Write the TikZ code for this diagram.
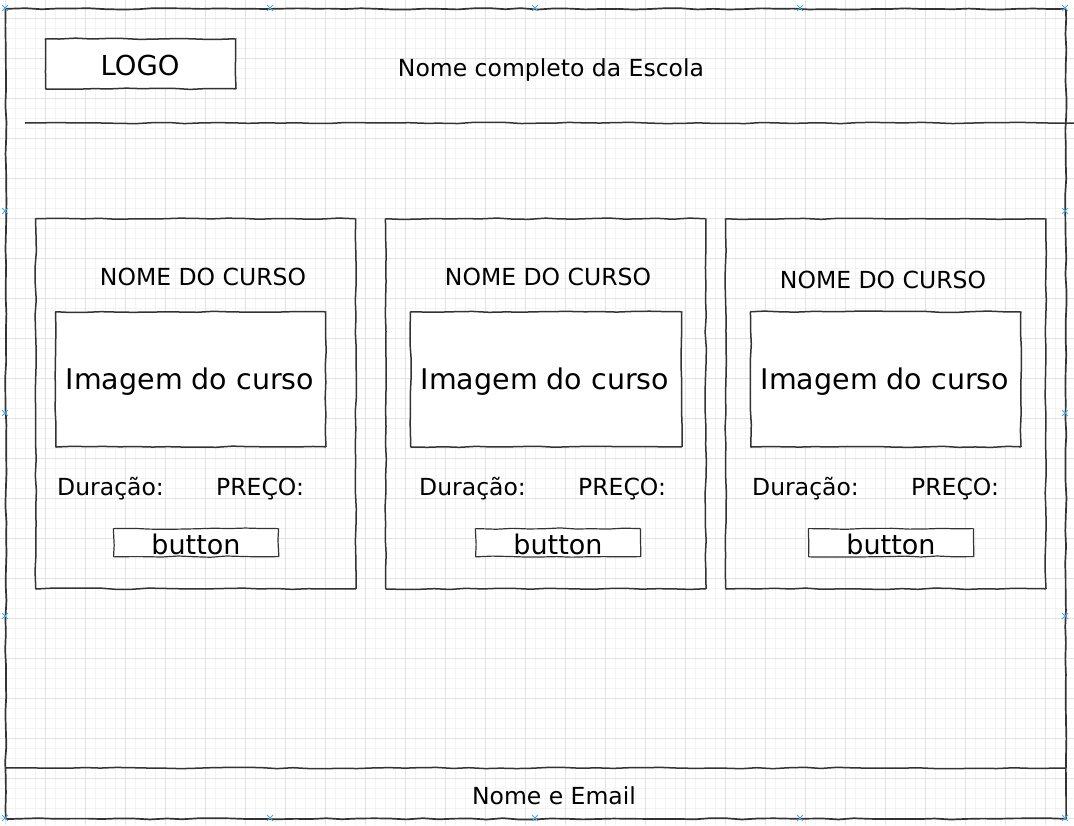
\documentclass[tikz,border=0pt]{standalone}
\usepackage{fontspec}
\setmainfont{DejaVu Sans}
\usetikzlibrary{decorations.pathmorphing,shapes.misc}
\definecolor{ink}{HTML}{333333}
\definecolor{gridmajor}{HTML}{E2E2E2}
\definecolor{gridminor}{HTML}{F3F3F3}
\definecolor{handle}{HTML}{4AA8DC}
\begin{document}
\pgfmathsetseed{7}
\begin{tikzpicture}[x=1pt,y=-1pt,
  sketch/.style={draw=ink, line width=1.5pt, decorate,
    decoration={random steps, segment length=16pt, amplitude=0.7pt}, rounded corners=0.5pt},
  box/.style={sketch, inner sep=0pt, anchor=north west},
  wbox/.style={box, fill=white},
  txt/.style={inner sep=0pt, font=\fontsize{23.5}{28}\selectfont},
  bigtxt/.style={inner sep=0pt, font=\fontsize{28.5}{34}\selectfont},
  btntxt/.style={inner sep=0pt, font=\fontsize{27}{32}\selectfont},
  logotxt/.style={inner sep=0pt, font=\fontsize{27.5}{32}\selectfont},
  hmark/.style={cross out, draw=handle, line width=0.8pt, minimum size=5pt, inner sep=0pt}
]
\useasboundingbox (0,0) rectangle (1074,825);
\fill[white] (0,0) rectangle (1074,825);
% grid
\foreach \x in {5,15,...,1074} \draw[gridminor, line width=0.6pt] (\x,0) -- (\x,825);
\foreach \y in {8,18,...,825} \draw[gridminor, line width=0.6pt] (0,\y) -- (1074,\y);
\foreach \x in {5,45,...,1074} \draw[gridmajor, line width=0.8pt] (\x,0) -- (\x,825);
\foreach \y in {18,58,...,825} \draw[gridmajor, line width=0.8pt] (0,\y) -- (1074,\y);

% outer frame
\node[box, minimum width=1060pt, minimum height=810pt, line width=1.7pt] (frame) at (5,8) {};

% header
\node[wbox, minimum width=190pt, minimum height=50pt] (logo) at (45,38) {};
\node[logotxt] (logotext) at (140,65) {LOGO};
\node[txt] (school) at (551,70) {Nome completo da Escola};
\coordinate (hl) at (25,123);
\coordinate (hr) at (1074,123);
\draw[sketch] (hl) -- (hr);

% cards
\node[box, minimum width=320pt, minimum height=370pt] (card1) at (35,218) {};
\node[box, minimum width=320pt, minimum height=370pt] (card2) at (385,218) {};
\node[box, minimum width=320pt, minimum height=370pt] (card3) at (725,218) {};

\node[txt] (t1) at (203,277) {NOME DO CURSO};
\node[txt] (t2) at (548,277) {NOME DO CURSO};
\node[txt] (t3) at (883,280) {NOME DO CURSO};

\node[wbox, minimum width=270pt, minimum height=135pt] (img1) at (55,311) {};
\node[wbox, minimum width=271pt, minimum height=135pt] (img2) at (410,311) {};
\node[wbox, minimum width=270pt, minimum height=135pt] (img3) at (750,311) {};
\node[bigtxt] (it1) at (190,381.5) {Imagem do curso};
\node[bigtxt] (it2) at (545,381.5) {Imagem do curso};
\node[bigtxt] (it3) at (885,381.5) {Imagem do curso};

\node[txt, anchor=west] (d1) at (57,489) {Duração:};
\node[txt, anchor=west] (p1) at (216,489) {PREÇO:};
\node[txt, anchor=west] (d2) at (419,489) {Duração:};
\node[txt, anchor=west] (p2) at (578,489) {PREÇO:};
\node[txt, anchor=west] (d3) at (752,489) {Duração:};
\node[txt, anchor=west] (p3) at (911,489) {PREÇO:};

\node[wbox, minimum width=165pt, minimum height=28pt, line width=1.2pt] (b1) at (113,528) {};
\node[wbox, minimum width=165pt, minimum height=28pt, line width=1.2pt] (b2) at (475,528) {};
\node[wbox, minimum width=165pt, minimum height=28pt, line width=1.2pt] (b3) at (808,528) {};
\node[btntxt] (bt1) at (196,544) {button};
\node[btntxt] (bt2) at (558,544) {button};
\node[btntxt] (bt3) at (891,544) {button};

% footer
\coordinate (fl) at (5,768);
\coordinate (fr) at (1065,768);
\draw[sketch] (fl) -- (fr);
\node[txt] (footer) at (554,796) {Nome e Email};

% selection handles
\foreach \i/\p in {1/{(5,8)},2/{(270,8)},3/{(535,8)},4/{(800,8)},5/{(1065,8)},
  6/{(5,818)},7/{(270,818)},8/{(535,818)},9/{(800,818)},10/{(1065,818)},
  11/{(5,211)},12/{(5,413)},13/{(5,616)},14/{(1065,211)},15/{(1065,413)},16/{(1065,616)}}
  \node[hmark] (h\i) at \p {};
\end{tikzpicture}
\end{document}
